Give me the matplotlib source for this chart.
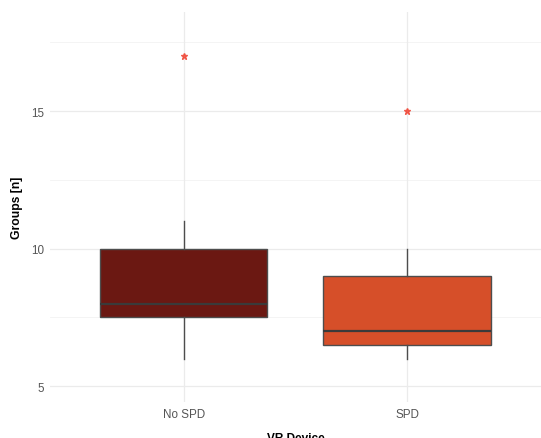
import matplotlib
matplotlib.use("Agg")
import matplotlib.pyplot as plt

plt.rcParams["font.family"] = ["Liberation Sans", "DejaVu Sans"]

# Box statistics
groups = ["No SPD", "SPD"]
whisker_low = [6, 6]
q1 = [7.5, 6.5]
median = [8, 7]
q3 = [10, 9]
whisker_high = [11, 10]
outliers = [[17], [15]]
box_colors = ["#6B1812", "#D64F29"]

stats = []
for i, g in enumerate(groups):
    stats.append({
        "label": g,
        "whislo": whisker_low[i],
        "q1": q1[i],
        "med": median[i],
        "q3": q3[i],
        "whishi": whisker_high[i],
        "fliers": outliers[i],
    })

fig = plt.figure(figsize=(5.41, 4.39), dpi=100)
ax = fig.add_axes([0.092, 0.082, 0.908, 0.888])

# ggplot-like minimal grid
for y in [5, 10, 15]:
    ax.axhline(y, color="#EBEBEB", lw=0.9, zorder=0)
for y in [7.5, 12.5, 17.5]:
    ax.axhline(y, color="#F3F3F3", lw=0.6, zorder=0)
for x in [1, 2]:
    ax.axvline(x, color="#EBEBEB", lw=0.9, zorder=0)

bp = ax.bxp(stats, positions=[1, 2], widths=0.75, patch_artist=True,
            showcaps=False,
            boxprops=dict(edgecolor="#4D4D4D", linewidth=1.0),
            medianprops=dict(color="#3A3A3A", linewidth=1.6),
            whiskerprops=dict(color="#4D4D4D", linewidth=1.0),
            flierprops=dict(marker="*", markersize=5, markerfacecolor="#F04A3A",
                            markeredgecolor="#F04A3A", alpha=0.85))
for patch, c in zip(bp["boxes"], box_colors):
    patch.set_facecolor(c)

ax.set_xlim(0.4, 2.6)
ax.set_ylim(4.42, 18.6)
ax.set_yticks([5, 10, 15])
ax.set_xticks([1, 2])
ax.set_xticklabels(groups)
ax.tick_params(length=0, labelsize=8.4, labelcolor="#555555")
ax.tick_params(axis="x", pad=4)
ax.tick_params(axis="y", pad=4)
for s in ax.spines.values():
    s.set_visible(False)

ax.set_ylabel("Groups [n]", fontsize=8.7, fontweight="bold", labelpad=6)
ax.set_xlabel("VR Device", fontsize=8.5, fontweight="bold", labelpad=9)

fig.savefig("out.png", dpi=100)
